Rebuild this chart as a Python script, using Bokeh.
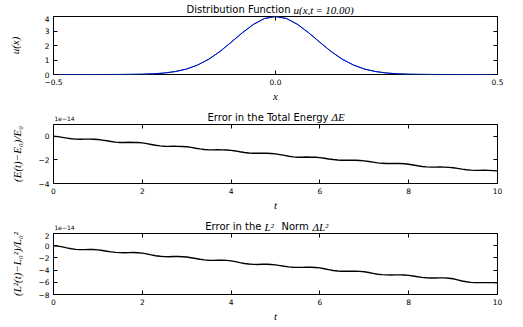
import numpy as np
from bokeh.plotting import figure
from bokeh.layouts import column
from bokeh.models import Range1d, FixedTicker, CustomJSTickFormatter, Label, LinearAxis
from bokeh.embed import file_html
from bokeh.resources import INLINE

# ---------------- data ----------------
x_grid = [-0.5, -0.475, -0.45, -0.425, -0.4, -0.375, -0.35, -0.325, -0.3, -0.275,
          -0.25, -0.225, -0.2, -0.175, -0.15, -0.125, -0.1, -0.075, -0.05, -0.025,
          0.0, 0.025, 0.05, 0.075, 0.1, 0.125, 0.15, 0.175, 0.2, 0.225,
          0.25, 0.275, 0.3, 0.325, 0.35, 0.375, 0.4, 0.425, 0.45, 0.475, 0.5]
u_exact = [0.0, 0.0, 0.0, 0.0, 0.001, 0.002, 0.004, 0.009, 0.021, 0.048,
           0.103, 0.205, 0.38, 0.66, 1.06, 1.59, 2.22, 2.87, 3.45, 3.86,
           4.0, 3.86, 3.45, 2.87, 2.22, 1.59, 1.06, 0.66, 0.38, 0.205,
           0.103, 0.048, 0.021, 0.009, 0.004, 0.002, 0.001, 0.0, 0.0, 0.0, 0.0]
u_numeric = [0.0, 0.0, 0.0, 0.0, 0.001, 0.002, 0.004, 0.009, 0.021, 0.048,
             0.103, 0.205, 0.38, 0.66, 1.06, 1.59, 2.22, 2.87, 3.45, 3.86,
             4.0, 3.86, 3.45, 2.87, 2.22, 1.59, 1.06, 0.66, 0.38, 0.205,
             0.103, 0.048, 0.021, 0.009, 0.004, 0.002, 0.001, 0.0, 0.0, 0.0, 0.0]

t_grid = np.linspace(0.0, 10.0, 101)

# energy error, units of 1e-14
energy_err = [
    0.00, -0.03, -0.09, -0.15, -0.21, -0.24, -0.25, -0.24, -0.24, -0.25,
    -0.27, -0.32, -0.38, -0.44, -0.49, -0.52, -0.52, -0.51, -0.52, -0.53,
    -0.56, -0.62, -0.69, -0.76, -0.81, -0.84, -0.85, -0.84, -0.85, -0.86,
    -0.89, -0.94, -1.01, -1.07, -1.12, -1.15, -1.15, -1.14, -1.15, -1.16,
    -1.19, -1.24, -1.31, -1.37, -1.42, -1.44, -1.44, -1.43, -1.44, -1.46,
    -1.49, -1.55, -1.62, -1.69, -1.74, -1.77, -1.77, -1.76, -1.77, -1.78,
    -1.81, -1.86, -1.92, -1.97, -2.01, -2.03, -2.03, -2.02, -2.03, -2.05,
    -2.08, -2.13, -2.19, -2.25, -2.29, -2.31, -2.31, -2.30, -2.31, -2.33,
    -2.37, -2.43, -2.50, -2.56, -2.59, -2.61, -2.61, -2.60, -2.61, -2.63,
    -2.66, -2.72, -2.78, -2.83, -2.87, -2.89, -2.89, -2.88, -2.89, -2.91,
    -2.93]

# L2 norm error, units of 1e-14
l2_err = [
    0.00, -0.06, -0.20, -0.36, -0.50, -0.60, -0.64, -0.64, -0.62, -0.63,
    -0.68, -0.78, -0.90, -1.02, -1.10, -1.14, -1.15, -1.13, -1.12, -1.15,
    -1.22, -1.35, -1.50, -1.64, -1.74, -1.79, -1.80, -1.78, -1.78, -1.80,
    -1.86, -1.97, -2.10, -2.23, -2.33, -2.39, -2.40, -2.38, -2.37, -2.41,
    -2.48, -2.62, -2.78, -2.92, -3.01, -3.06, -3.07, -3.05, -3.04, -3.08,
    -3.15, -3.26, -3.37, -3.47, -3.53, -3.56, -3.56, -3.54, -3.54, -3.57,
    -3.64, -3.78, -3.93, -4.07, -4.15, -4.19, -4.20, -4.18, -4.18, -4.21,
    -4.28, -4.40, -4.54, -4.67, -4.75, -4.79, -4.80, -4.78, -4.78, -4.81,
    -4.87, -4.97, -5.09, -5.19, -5.26, -5.30, -5.30, -5.28, -5.28, -5.33,
    -5.42, -5.60, -5.78, -5.92, -6.01, -6.05, -6.06, -6.05, -6.05, -6.06,
    -6.07]

x_ticks_u = [-0.5, 0.0, 0.5]
y_ticks_u = [0, 1, 2, 3, 4]
t_ticks = [0, 2, 4, 6, 8, 10]
y_ticks_e = [-4, -2, 0]
y_ticks_l2 = [-8, -6, -4, -2, 0, 2]

SANS = "DejaVu Sans"
SERIF = "Liberation Serif"
W = 523
FRAME_L, FRAME_R = 53, 497

int_fmt = CustomJSTickFormatter(code="return tick < 0 ? '\\u2212' + Math.abs(tick).toFixed(0) : tick.toFixed(0);")
dec_fmt = CustomJSTickFormatter(code="return tick < 0 ? '\\u2212' + Math.abs(tick).toFixed(1) : tick.toFixed(1);")


def make_fig(h, top, bottom, xr, yr, xt, yt, xfmt, yfmt, xlabel, ylabel, ystandoff):
    p = figure(width=W, height=h, x_range=xr, y_range=yr,
               output_backend="svg", toolbar_location=None,
               min_border_left=FRAME_L, min_border_right=W - FRAME_R,
               min_border_top=top, min_border_bottom=bottom)
    p.grid.visible = False
    p.outline_line_color = "black"
    p.outline_line_width = 1
    p.background_fill_color = "white"
    p.border_fill_color = "white"
    for ax in (p.xaxis[0], p.yaxis[0]):
        ax.axis_line_color = None
        ax.major_tick_in = 4
        ax.major_tick_out = 0
        ax.major_tick_line_color = "black"
        ax.minor_tick_line_color = None
        ax.major_label_text_font = SANS
        ax.major_label_text_font_size = "7.5px"
        ax.major_label_text_color = "black"
        ax.axis_label_text_font = SERIF
        ax.axis_label_text_font_style = "italic"
        ax.axis_label_text_font_size = "11px"
        ax.axis_label_text_color = "black"
    p.xaxis[0].ticker = FixedTicker(ticks=xt)
    p.yaxis[0].ticker = FixedTicker(ticks=yt)
    p.xaxis[0].formatter = xfmt
    p.yaxis[0].formatter = yfmt
    p.xaxis[0].major_label_standoff = 4
    p.yaxis[0].major_label_standoff = 4
    p.xaxis[0].axis_label = xlabel
    p.yaxis[0].axis_label = ylabel
    p.xaxis[0].axis_label_standoff = 2
    p.yaxis[0].axis_label_standoff = ystandoff
    blank = "return '';"
    top_ax = LinearAxis(ticker=FixedTicker(ticks=xt), formatter=CustomJSTickFormatter(code=blank),
                        axis_line_color=None, major_tick_in=4, major_tick_out=0,
                        minor_tick_line_color=None, major_label_standoff=0,
                        major_label_text_font_size="1px")
    right_ax = LinearAxis(ticker=FixedTicker(ticks=yt), formatter=CustomJSTickFormatter(code=blank),
                          axis_line_color=None, major_tick_in=4, major_tick_out=0,
                          minor_tick_line_color=None, major_label_standoff=0,
                          major_label_text_font_size="1px")
    p.add_layout(top_ax, "above")
    p.add_layout(right_ax, "right")
    return p


def title_fig(h, pieces):
    """A strip holding a panel title; x in page pixels (its frame is aligned with the
    panels' frames by the column), y in pixels from the strip's bottom."""
    t = figure(width=W, height=h, x_range=Range1d(FRAME_L, FRAME_R), y_range=Range1d(0, h),
               output_backend="svg", toolbar_location=None,
               x_axis_location=None, y_axis_location=None, min_border=0,
               min_border_left=FRAME_L, min_border_right=W - FRAME_R,
               min_border_top=0, min_border_bottom=0)
    try:
        t.title = None
    except Exception:
        t.title.text_font_size = "0px"
        t.title.standoff = 0
    t.grid.visible = False
    t.outline_line_color = None
    t.background_fill_color = "white"
    t.border_fill_color = "white"
    for (text, x, y, font, size, style, align) in pieces:
        t.add_layout(Label(x=x, y=y, text=text, text_font=font, text_font_size=size,
                           text_font_style=style, text_align=align,
                           text_baseline="alphabetic", text_color="black"))
    return t


# ---------------- panel 1 ----------------
t1 = title_fig(15, [
    ("Distribution Function", 290, 6, SANS, "10px", "normal", "right"),
    ("u(x,t\u2009=\u200910.00)", 293, 6, SERIF, "11px", "italic", "left"),
])
xr1 = Range1d(-0.5, 0.5)
yr1 = Range1d(0, 4)
p1 = make_fig(89, 1, 26, xr1, yr1, x_ticks_u, y_ticks_u, dec_fmt, int_fmt, "x", "u(x)", 21)
p1.line(x_grid, u_exact, color="#008000", line_width=1)
p1.line(x_grid, u_numeric, color="#0000ff", line_width=1)

# ---------------- panel 2 ----------------
t2 = title_fig(19, [
    ("Error in the Total Energy", 328, 6.5, SANS, "10px", "normal", "right"),
    ("\u0394E", 331, 6.5, SERIF, "11px", "italic", "left"),
    ("1e\u221214", 54, 5, SANS, "6px", "normal", "left"),
])
xr2 = Range1d(0, 10)
yr2 = Range1d(-4, 1)
p2 = make_fig(90, 1, 27, xr2, yr2, t_ticks, y_ticks_e, int_fmt, int_fmt, "t",
              "(E(t)\u2212E\u2080)/E\u2080", 12)
p2.line(t_grid, energy_err, color="black", line_width=1.4)

# ---------------- panel 3 ----------------
t3 = title_fig(19, [
    ("Error in the", 261, 6, SANS, "10px", "normal", "right"),
    ("L\u00b2", 264, 6, SERIF, "11px", "italic", "left"),
    ("Norm", 281, 6, SANS, "10px", "normal", "left"),
    ("\u0394L\u00b2", 312, 6, SERIF, "11px", "italic", "left"),
    ("1e\u221214", 54, 5, SANS, "6px", "normal", "left"),
])
xr3 = Range1d(0, 10)
yr3 = Range1d(-8, 2)
p3 = make_fig(95, 1, 33, xr3, yr3, t_ticks, y_ticks_l2, int_fmt, int_fmt, "t",
              "(L\u00b2(t)\u2212L\u2080\u00b2)/L\u2080\u00b2", 12)
p3.line(t_grid, l2_err, color="black", line_width=1.4)

layout = column(t1, p1, t2, p2, t3, p3, spacing=0)
open("out.html", "w").write(file_html(layout, INLINE))
